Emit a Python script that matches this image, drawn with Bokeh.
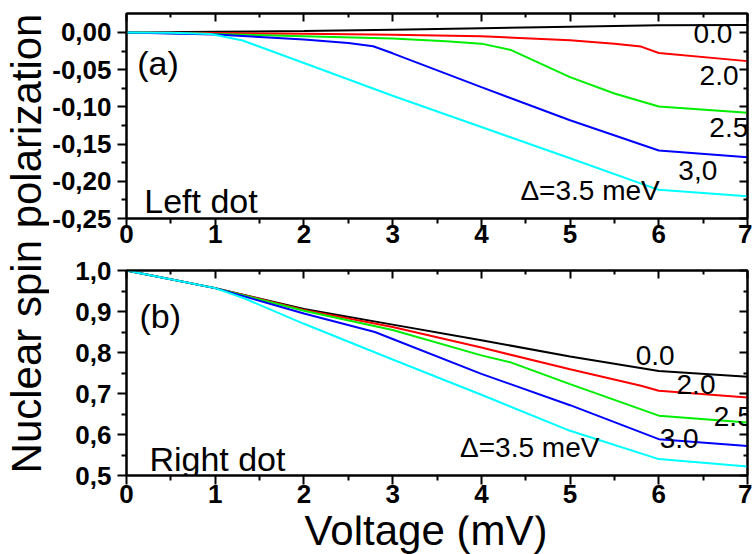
import math
from bokeh.plotting import figure
from bokeh.models import Range1d, FixedTicker, CustomJSTickFormatter, LinearAxis, Label
from bokeh.layouts import row, column
from bokeh.embed import file_html
from bokeh.resources import INLINE

# ---------------- data ----------------
voltage_ticks = [0, 1, 2, 3, 4, 5, 6, 7]
voltage_minor = [0.5, 1.5, 2.5, 3.5, 4.5, 5.5, 6.5]
left_ticks = [-0.25, -0.20, -0.15, -0.10, -0.05, 0.0]
left_minor = [-0.225, -0.175, -0.125, -0.075, -0.025]
right_ticks = [0.5, 0.6, 0.7, 0.8, 0.9, 1.0]
right_minor = [0.55, 0.65, 0.75, 0.85, 0.95]

curve_colors = ["#000000", "#ff0000", "#00ee00", "#0000ff", "#00ffff"]

# (a) Left dot
left_d00_x = [0, 1, 2, 3, 4, 5, 6, 7]
left_d00_y = [0, 0.001, 0.002, 0.0038, 0.0058, 0.0078, 0.0096, 0.0102]
left_d20_x = [0, 1, 2, 3, 4, 5, 5.5, 5.8, 6, 7]
left_d20_y = [0, -0.0008, -0.0018, -0.003, -0.005, -0.0105, -0.015, -0.019, -0.0275, -0.0385]
left_d25_x = [0, 1, 2, 3, 3.6, 4, 4.33, 5, 5.5, 6, 7]
left_d25_y = [0, -0.002, -0.005, -0.008, -0.0117, -0.015, -0.0235, -0.060, -0.082, -0.0995, -0.108]
left_d30_x = [0, 1, 1.5, 2, 2.5, 2.78, 3, 4, 5, 6, 7]
left_d30_y = [0, -0.0027, -0.006, -0.0095, -0.014, -0.0185, -0.028, -0.0735, -0.118, -0.1586, -0.1676]
left_d35_x = [0, 0.5, 0.95, 1.31, 2, 3, 4, 5, 6, 7]
left_d35_y = [0, -0.0005, -0.002, -0.0108, -0.041, -0.085, -0.127, -0.169, -0.2115, -0.220]

# (b) Right dot
right_d00_x = [0, 1, 2, 3, 4, 5, 6, 7]
right_d00_y = [1.0, 0.957, 0.906, 0.868, 0.830, 0.790, 0.755, 0.741]
right_d20_x = [0, 1, 2, 3, 4, 5, 5.8, 6, 7]
right_d20_y = [1.0, 0.957, 0.904, 0.862, 0.812, 0.759, 0.719, 0.7065, 0.690]
right_d25_x = [0, 1, 2, 3, 4, 4.33, 5, 6, 7]
right_d25_y = [1.0, 0.957, 0.902, 0.855, 0.793, 0.776, 0.723, 0.646, 0.629]
right_d30_x = [0, 1, 2, 2.8, 3, 4, 5, 6, 7]
right_d30_y = [1.0, 0.957, 0.895, 0.850, 0.833, 0.748, 0.6715, 0.5886, 0.572]
right_d35_x = [0, 1, 1.34, 2, 3, 4, 5, 6, 7]
right_d35_y = [1.0, 0.957, 0.931, 0.870, 0.783, 0.697, 0.609, 0.540, 0.522]

left_series = [(left_d00_x, left_d00_y), (left_d20_x, left_d20_y), (left_d25_x, left_d25_y),
               (left_d30_x, left_d30_y), (left_d35_x, left_d35_y)]
right_series = [(right_d00_x, right_d00_y), (right_d20_x, right_d20_y), (right_d25_x, right_d25_y),
                (right_d30_x, right_d30_y), (right_d35_x, right_d35_y)]

FONT = "Liberation Sans"
TOTAL_H = 554
LABEL_W = 49
MAIN_W = 752 - LABEL_W
BORDER_L = 124 - LABEL_W
FRAME_H = 205
CENTER_SHIFT = 0.3465  # em offset between alphabetic baseline and the em-box centre


def comma_fmt(digits):
    return CustomJSTickFormatter(code="return tick.toFixed(%d).replace('.', ',');" % digits)


def style_axis(ax):
    ax.axis_line_width = 2
    ax.axis_line_color = "black"
    ax.major_tick_line_width = 2
    ax.minor_tick_line_width = 2
    ax.major_tick_out = 9
    ax.major_tick_in = 0
    ax.minor_tick_out = 5
    ax.minor_tick_in = 0
    ax.major_label_text_font = FONT
    ax.major_label_text_font_style = "bold"
    ax.major_label_text_font_size = "26px"
    ax.major_label_text_color = "black"


def mirror_axis(ticker):
    ax = LinearAxis(ticker=ticker, formatter=CustomJSTickFormatter(code="return '';"))
    ax.axis_line_width = 2
    ax.major_tick_line_width = 2
    ax.minor_tick_line_width = 2
    ax.major_tick_in = 8
    ax.major_tick_out = 0
    ax.minor_tick_in = 4
    ax.minor_tick_out = 0
    ax.major_label_standoff = 0
    ax.major_label_text_font_size = "1px"
    return ax


def make_panel(height, y0, y1, yticks, yminor, digits, series, b_top, b_bottom, x_standoff):
    p = figure(width=MAIN_W, height=height, x_range=Range1d(0, 7), y_range=Range1d(y0, y1),
               toolbar_location=None, output_backend="svg",
               min_border_left=BORDER_L, min_border_right=5, min_border_top=b_top,
               min_border_bottom=b_bottom)
    p.xgrid.visible = False
    p.ygrid.visible = False
    p.outline_line_color = "black"
    p.outline_line_width = 2
    p.background_fill_color = "white"
    p.border_fill_color = "white"
    xa = p.below[0]
    ya = p.left[0]
    xa.ticker = FixedTicker(ticks=voltage_ticks, minor_ticks=voltage_minor)
    ya.ticker = FixedTicker(ticks=yticks, minor_ticks=yminor)
    ya.formatter = comma_fmt(digits)
    style_axis(xa)
    xa.major_label_standoff = x_standoff
    style_axis(ya)
    ya.major_label_standoff = 6
    p.add_layout(mirror_axis(FixedTicker(ticks=voltage_ticks, minor_ticks=voltage_minor)), "above")
    p.add_layout(mirror_axis(FixedTicker(ticks=yticks, minor_ticks=yminor)), "right")
    for (xs, ys), c in zip(series, curve_colors):
        p.line(xs, ys, line_color=c, line_width=2)
    return p


def add_text(p, x, y_base, txt, size, px_per_unit):
    # place text so that its alphabetic baseline sits at y_base (data units)
    yc = y_base + CENTER_SHIFT * size / px_per_unit
    p.add_layout(Label(x=x, y=yc, text=txt, text_font=FONT, text_font_size="%dpx" % size,
                       text_color="black", text_align="left", text_baseline="alphabetic"))


top_h = 13 + FRAME_H + 37
top_lo, top_hi = -0.25, 0.0255
top = make_panel(top_h, top_lo, top_hi, left_ticks, left_minor, 2, left_series, 13, 37, -3)
ppu_top = FRAME_H / (top_hi - top_lo)
add_text(top, 0.12, -0.0565, "(a)", 34, ppu_top)
add_text(top, 0.20, -0.2429, "Left dot", 34, ppu_top)
add_text(top, 6.39, -0.0148, "0.0", 28, ppu_top)
add_text(top, 6.46, -0.0713, "2.0", 28, ppu_top)
add_text(top, 6.57, -0.1412, "2.5", 28, ppu_top)
add_text(top, 6.22, -0.199, "3,0", 28, ppu_top)
add_text(top, 4.44, -0.2258, "\u0394=3.5 meV", 28, ppu_top)

bot_h = 15 + FRAME_H + 40
bot_lo, bot_hi = 0.5, 1.0
bottom = make_panel(bot_h, bot_lo, bot_hi, right_ticks, right_minor, 1, right_series, 15, 40, 0)
ppu_bot = FRAME_H / (bot_hi - bot_lo)
add_text(bottom, 0.146, 0.861, "(b)", 34, ppu_bot)
add_text(bottom, 0.258, 0.511, "Right dot", 34, ppu_bot)
add_text(bottom, 5.74, 0.770, "0.0", 28, ppu_bot)
add_text(bottom, 6.20, 0.698, "2.0", 28, ppu_bot)
add_text(bottom, 6.62, 0.621, "2.5", 28, ppu_bot)
add_text(bottom, 6.01, 0.5666, "3.0", 28, ppu_bot)
add_text(bottom, 3.76, 0.544, "\u0394=3.5 meV", 28, ppu_bot)

# strip under the lower panel holding the x-axis title (shares the voltage scale)
title_h = TOTAL_H - top_h - bot_h
tf = figure(width=MAIN_W, height=title_h, x_range=Range1d(0, 7), y_range=Range1d(0, title_h),
            toolbar_location=None, output_backend="svg", x_axis_type=None, y_axis_type=None,
            min_border_left=BORDER_L, min_border_right=5, min_border_top=0, min_border_bottom=0)
tf.xgrid.visible = False
tf.ygrid.visible = False
tf.outline_line_color = None
tf.add_layout(Label(x=3.376, y=(TOTAL_H - 545) + CENTER_SHIFT * 42, text="Voltage (mV)",
                    text_font=FONT, text_font_size="42px", text_align="center",
                    text_baseline="alphabetic", text_color="black"))

# left strip holding the shared y-axis title
lf = figure(width=LABEL_W, height=TOTAL_H, x_range=Range1d(0, LABEL_W), y_range=Range1d(0, TOTAL_H),
            toolbar_location=None, output_backend="svg", x_axis_type=None, y_axis_type=None,
            min_border=0)
lf.xgrid.visible = False
lf.ygrid.visible = False
lf.outline_line_color = None
lf.add_layout(Label(x=41 - CENTER_SHIFT * 42, y=TOTAL_H - 243, text="Nuclear spin polarization",
                    angle=math.pi / 2, text_font=FONT, text_font_size="42px", text_align="center",
                    text_baseline="alphabetic", text_color="black"))

layout = row(lf, column(top, bottom, tf))
open("out.html", "w").write(file_html(layout, INLINE))
